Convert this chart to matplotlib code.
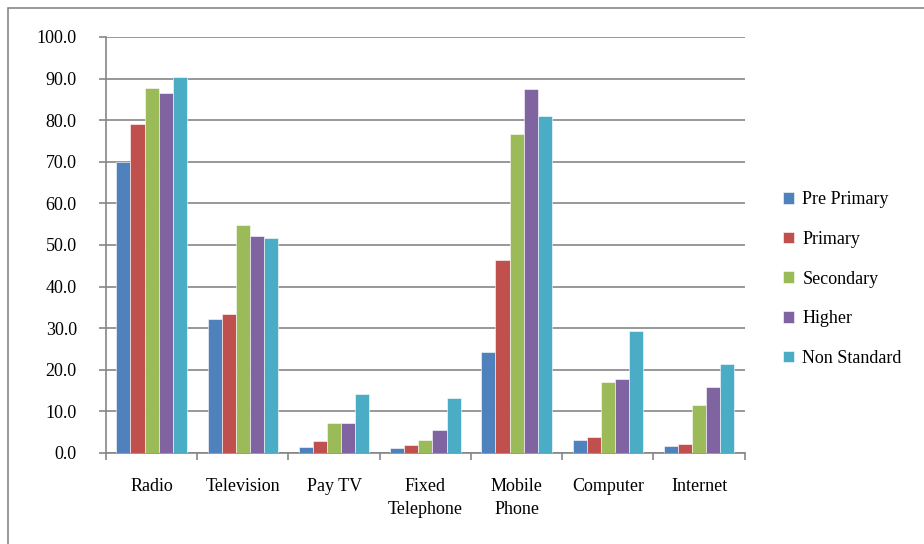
import numpy as np
import matplotlib
matplotlib.use("Agg")
import matplotlib.pyplot as plt
from matplotlib.patches import Rectangle
from matplotlib.ticker import MultipleLocator, FixedLocator

categories = ["Radio", "Television", "Pay TV", "Fixed\nTelephone",
              "Mobile\nPhone", "Computer", "Internet"]
pre_primary = [70.0, 32.1, 1.5, 1.2, 24.2, 3.1, 1.7]
primary = [79.1, 33.5, 2.8, 2.0, 46.4, 3.8, 2.1]
secondary = [87.8, 54.8, 7.2, 3.2, 76.8, 17.1, 11.6]
higher = [86.5, 52.1, 7.2, 5.5, 87.4, 17.7, 15.8]
non_standard = [90.5, 51.7, 14.3, 13.3, 81.1, 29.3, 21.4]

series = [
    ("Pre Primary", pre_primary, "#4F81BD"),
    ("Primary", primary, "#C0504D"),
    ("Secondary", secondary, "#9BBB59"),
    ("Higher", higher, "#8064A2"),
    ("Non Standard", non_standard, "#4BACC6"),
]

plt.rcParams['font.family'] = ['Liberation Serif', 'DejaVu Serif']

fig = plt.figure(figsize=(9.24, 5.44), dpi=100)
ax = fig.add_axes([0.1147, 0.1673, 0.6913, 0.7647])

# outer chart frame
fig.patches.append(Rectangle((0.009, -0.01), 0.995, 0.996, transform=fig.transFigure,
                             fill=False, edgecolor="#868686", linewidth=1.2))

x = np.arange(len(categories))
width = 0.155
for i, (name, vals, color) in enumerate(series):
    ax.bar(x + (i - 2) * width, vals, width, color=color, label=name,
           edgecolor="white", linewidth=0.4, zorder=3)

ax.set_xlim(-0.5, len(categories) - 0.5)
ax.set_ylim(0, 100)
ax.yaxis.set_major_locator(MultipleLocator(10))
ax.yaxis.set_major_formatter(matplotlib.ticker.FormatStrFormatter("%.1f"))
ax.grid(axis="y", color="#868686", linewidth=1.2, zorder=0)

ax.set_xticks(x)
ax.set_xticklabels(categories, fontsize=13, linespacing=1.5)
ax.xaxis.set_minor_locator(FixedLocator(np.arange(-0.5, len(categories), 1.0)))
ax.tick_params(axis="x", which="major", length=0, pad=18)
ax.tick_params(axis="x", which="minor", length=5, color="#868686", width=1.2)
ax.tick_params(axis="y", length=5, color="#868686", width=1.2, labelsize=13, pad=16)

for side in ["top", "right"]:
    ax.spines[side].set_visible(False)
for side in ["left", "bottom"]:
    ax.spines[side].set_color("#868686")
    ax.spines[side].set_linewidth(1.2)

handles, labels = ax.get_legend_handles_labels()
fig.legend(handles, labels, loc="center left", bbox_to_anchor=(0.838, 0.487),
           frameon=False, fontsize=13, handlelength=0.6, handleheight=0.6,
           handletextpad=0.45, labelspacing=1.25, borderpad=0)

fig.savefig("out.png", dpi=100)
